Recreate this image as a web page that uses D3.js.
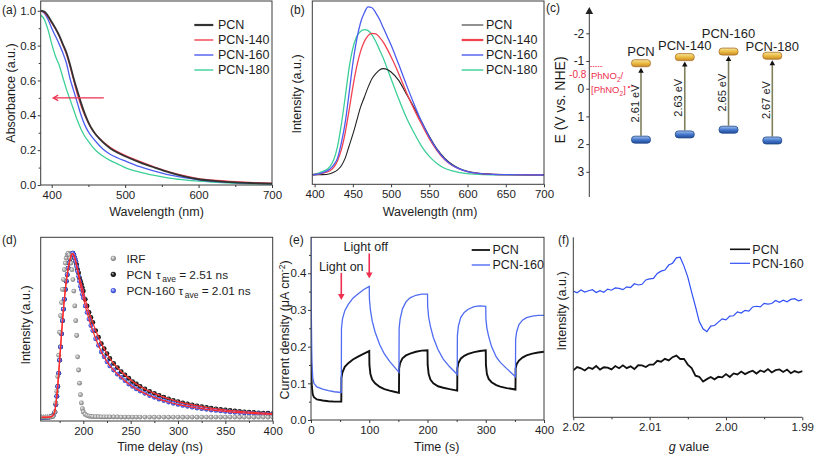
<!DOCTYPE html>
<html><head><meta charset="utf-8">
<script src="https://cdn.jsdelivr.net/npm/d3@7"></script>
<style>body{margin:0;background:#fff}svg{display:block}text{font-family:"Liberation Sans",Arial,Helvetica,sans-serif}</style>
</head><body>
<svg id="chart" width="817" height="458"></svg>
<script>
// ---------- (a) UV-vis absorbance ----------
const aWl   = [385,390,395,400,405,410,415,420,425,430,435,440,445,450,455,460,470,480,490,500,520,540,560,580,600,625,650,675,700];
const aPCN  = [1.0,0.995,0.97,0.935,0.9,0.86,0.81,0.76,0.69,0.61,0.54,0.47,0.41,0.36,0.32,0.29,0.245,0.21,0.185,0.165,0.13,0.1,0.072,0.05,0.033,0.022,0.015,0.011,0.008];
const aP140 = [1.0,0.99,0.965,0.93,0.895,0.855,0.805,0.75,0.68,0.6,0.52,0.455,0.4,0.355,0.318,0.29,0.248,0.215,0.19,0.17,0.135,0.103,0.076,0.054,0.037,0.026,0.019,0.014,0.011];
const aP160 = [1.0,0.985,0.95,0.9,0.855,0.81,0.76,0.7,0.61,0.54,0.47,0.4,0.345,0.305,0.275,0.25,0.205,0.175,0.155,0.138,0.105,0.08,0.058,0.042,0.03,0.02,0.014,0.01,0.007];
const aP180 = [0.975,0.95,0.89,0.81,0.74,0.69,0.62,0.55,0.49,0.43,0.37,0.32,0.28,0.25,0.222,0.198,0.165,0.14,0.12,0.1,0.074,0.055,0.04,0.03,0.022,0.015,0.01,0.007,0.005];
const aXTicks = [400,500,600,700], aXLabels = ["400","500","600","700"], aXMinor = [450,550,650];
const aYTicks = [0,0.2,0.4,0.6,0.8,1.0], aYLabels = ["0.0","0.2","0.4","0.6","0.8","1.0"], aYMinor = [0.1,0.3,0.5,0.7,0.9];
const aArrow = [471,402,0.5];

// ---------- (b) PL spectra ----------
const plWl   = [397,400,410,420,425,430,435,440,445,450,455,460,465,470,475,480,485,490,495,500,510,520,530,540,550,560,570,580,590,600,620,650,700];
const plPCN  = [0,0.001,0.002,0.008,0.016,0.03,0.055,0.1,0.17,0.24,0.32,0.4,0.46,0.52,0.57,0.6,0.622,0.63,0.625,0.61,0.56,0.48,0.4,0.315,0.23,0.155,0.1,0.062,0.037,0.022,0.008,0.002,0];
const plP140 = [0.002,0.003,0.01,0.025,0.045,0.085,0.15,0.25,0.38,0.52,0.64,0.73,0.79,0.825,0.838,0.835,0.815,0.785,0.745,0.7,0.6,0.49,0.39,0.3,0.215,0.145,0.092,0.056,0.034,0.02,0.007,0.002,0];
const plP160 = [0.002,0.003,0.012,0.035,0.06,0.1,0.19,0.31,0.48,0.66,0.8,0.9,0.96,0.995,0.99,0.96,0.92,0.87,0.82,0.77,0.655,0.535,0.42,0.315,0.225,0.15,0.095,0.058,0.035,0.02,0.007,0.002,0];
const plP180 = [0.003,0.005,0.02,0.05,0.09,0.17,0.3,0.46,0.63,0.75,0.82,0.85,0.86,0.855,0.83,0.79,0.74,0.69,0.63,0.57,0.45,0.34,0.25,0.17,0.11,0.068,0.04,0.024,0.014,0.008,0.003,0.001,0];
const bXTicks = [400,450,500,550,600,650,700], bXLabels = ["400","450","500","550","600","650","700"];

// ---------- (c) band positions ----------
const cSamples = ["PCN","PCN-140","PCN-160","PCN-180"];
const cCB  = [-0.92,-1.14,-1.34,-1.19];
const cVB  = [1.84,1.65,1.48,1.87];
const cGap = ["2.61 eV","2.63 eV","2.65 eV","2.67 eV"];
const cTicks = [-2,-1,0,1,2,3], cLabels = ["-2","-1","0","1","2","3"];
const cRedox = -0.8;

// ---------- (d) TRPL decay ----------
const dTime = [156,158,160,162,164,166,168,170,171,172,173,174,175,176,177,178,179,180,181,182,183,184,185,186,187,188,189,190,191,192,193,194,195,196,197,198,199,200,202,204,206,208,210,213,216,219,222,225,228,232,236,240,244,248,252,256,260,265,270,275,280,285,290,295,300,305,310,315,320,325,330,335,340,345,350,355,360,365,370,375,380,385,390,395,400];
const dIRF = [0.004,0.004,0.004,0.004,0.004,0.005,0.008,0.035,
  0.09,0.16,0.25,0.38,0.52,0.62,0.7,0.78,0.84,0.9,
  0.94,0.97,0.99,1.0,0.99,0.97,0.94,0.9,0.84,0.77,
  0.68,0.59,0.5,0.37,0.29,0.21,0.14,0.09,0.055,0.035,
  0.02,0.013,0.01,0.008,0.007,0.006,0.006,0.005,0.005,0.005,0.005,
  0.005,0.005,0.004,0.004,0.004,0.004,0.004,
  0.004,0.004,0.004,0.003,0.004,0.004,0.003,0.004,0.004,0.003,0.004,0.004,0.003,0.004,0.004,0.003,0.004,0.004,0.003,0.004,0.004,0.003,0.004,0.004,0.003,0.004,0.004,0.003,0.004];
const dPCN = [0.003,0.003,0.003,0.004,0.004,0.006,0.012,0.035,
  0.08,0.13,0.19,0.27,0.35,0.43,0.51,0.59,0.66,0.72,
  0.78,0.83,0.87,0.91,0.94,0.965,0.985,0.997,1.0,0.99,
  0.97,0.95,0.93,0.9,0.88,0.85,0.83,0.81,0.79,0.77,
  0.72,0.68,0.64,0.61,0.58,0.53,0.49,0.45,0.42,0.39,0.36,
  0.33,0.305,0.28,0.26,0.24,0.22,0.205,
  0.19,0.175,0.16,0.148,0.136,0.125,0.115,0.106,0.098,0.09,0.084,0.078,0.072,0.067,0.062,0.058,0.054,0.05,0.047,0.044,0.041,0.039,0.036,0.034,0.032,0.03,0.028,0.027,0.025];
const dP160 = [0.002,0.002,0.002,0.003,0.003,0.005,0.011,0.033,
  0.08,0.13,0.19,0.27,0.35,0.43,0.51,0.59,0.66,0.72,
  0.78,0.83,0.87,0.91,0.94,0.965,0.985,0.997,1.0,0.99,
  0.97,0.95,0.92,0.89,0.86,0.83,0.8,0.78,0.75,0.73,
  0.68,0.64,0.6,0.56,0.53,0.48,0.44,0.4,0.37,0.34,0.315,
  0.29,0.265,0.245,0.225,0.205,0.19,0.175,
  0.162,0.148,0.135,0.124,0.113,0.104,0.095,0.088,0.081,0.075,0.069,0.064,0.059,0.055,0.051,0.047,0.044,0.041,0.038,0.035,0.033,0.031,0.029,0.027,0.025,0.024,0.022,0.021,0.02];
const dXTicks = [200,250,300,350,400], dXLabels = ["200","250","300","350","400"], dXMinor = [175,225,275,325,375];
const dTau = ["2.51 ns","2.01 ns"];

// ---------- (e) photocurrent ----------
const eTime = [0,0.5,1.5,3,5,10,20,30,40,52,52.3,54,58,64,72,80,90,100,100.3,102,105,110,118,126,135,143,151,151.3,153,157,163,170,180,190,200,200.3,202,205,210,218,227,238,251,251.3,253,257,263,270,280,290,300,300.3,302,305,310,318,325,336,351,351.3,353,357,363,370,380,390,400];
const eP160 = [0.5,0.3,0.16,0.115,0.1,0.09,0.084,0.08,0.077,0.075,
  0.25,0.275,0.298,0.315,0.332,0.343,0.355,0.364,
  0.33,0.3,0.27,0.24,0.205,0.18,0.16,0.145,0.13,
  0.25,0.275,0.303,0.322,0.333,0.34,0.343,0.343,
  0.31,0.28,0.255,0.225,0.192,0.166,0.145,0.124,
  0.23,0.256,0.279,0.293,0.302,0.309,0.311,0.31,
  0.275,0.25,0.228,0.2,0.172,0.157,0.14,0.118,
  0.22,0.24,0.26,0.272,0.279,0.283,0.285,0.285];
const ePCN = [0.2,0.13,0.09,0.07,0.062,0.056,0.053,0.051,0.05,0.05,
  0.115,0.13,0.145,0.155,0.165,0.172,0.18,0.188,
  0.15,0.125,0.11,0.1,0.09,0.084,0.08,0.077,0.074,
  0.14,0.155,0.168,0.176,0.181,0.186,0.189,0.19,
  0.15,0.125,0.11,0.1,0.092,0.088,0.084,0.08,
  0.14,0.155,0.167,0.175,0.18,0.185,0.188,0.19,
  0.15,0.125,0.112,0.103,0.095,0.091,0.087,0.083,
  0.14,0.152,0.162,0.17,0.176,0.181,0.184,0.186];
const eXTicks = [0,100,200,300,400], eXLabels = ["0","100","200","300","400"], eXMinor = [50,150,250,350];
const eYTicks = [0,0.1,0.2,0.3,0.4], eYLabels = ["0.0","0.1","0.2","0.3","0.4"], eYMinor = [0.05,0.15,0.25,0.35,0.45];
const eLightOn = [52,0.401,0.327], eLightOff = [100,0.454,0.386];

// ---------- (f) EPR ----------
const eprG = [2.0200,2.0195,2.0190,2.0185,2.0180,2.0175,2.0170,2.0165,2.0160,2.0155,2.0150,2.0145,2.0140,2.0135,2.0130,2.0125,2.0120,2.0115,2.0110,2.0105,2.0100,2.0095,2.0090,2.0085,2.0080,2.0075,2.0070,2.0065,2.0060,2.0055,2.0050,2.0045,2.0040,2.0035,2.0030,2.0025,2.0020,2.0015,2.0010,2.0005,2.0000,1.9995,1.9990,1.9985,1.9980,1.9975,1.9970,1.9965,1.9960,1.9955,1.9950,1.9945,1.9940,1.9935,1.9930,1.9925,1.9920,1.9915,1.9910,1.9905,1.9900];
const eprP160 = [70.1,69.2,70.7,69.6,70.3,70.9,69.3,70.3,69.5,71.2,70.6,71.9,71.6,70.9,72.5,72.1,74.2,73.5,73.9,76.3,76.9,77.2,79.9,81.2,81.8,84.6,85.6,88.6,88.9,84.0,77.9,69.5,61.6,53.2,49.2,47.6,50.7,51.0,52.9,54.7,54.1,56.2,56.4,58.6,57.9,59.4,59.0,61.3,61.7,61.3,63.3,62.9,63.2,64.9,63.9,65.1,64.2,65.5,65.9,64.7,65.4];
const eprPCN = [26.1,27.9,27.2,26.0,27.7,26.9,28.5,26.5,27.8,27.6,26.6,28.5,27.3,28.9,27.3,28.3,26.8,28.9,28.8,27.9,29.3,29.3,31.4,30.9,32.5,31.6,33.4,34.3,32.4,32.5,29.3,27.3,23.1,22.5,19.9,21.2,22.4,21.1,22.5,22.2,24.0,22.4,24.4,23.8,25.4,24.0,25.1,25.9,24.3,26.0,25.2,26.8,24.9,26.2,26.6,25.2,26.5,24.5,25.7,24.9,25.6];
const fXTicks = [2.02,2.01,2.00,1.99], fXLabels = ["2.02","2.01","2.00","1.99"], fXMinor = [2.015,2.005,1.995];

// ---------- drawing ----------
const FONT = "'Liberation Sans', Arial, Helvetica, sans-serif";
const AX = "#3a3a3a", TX = "#1e1e1e";
const C_PCN = "#222", C_140 = "#f2404e", C_160 = "#4b5cf0", C_180 = "#3ccf98", C_RED = "#ee2f4f";
const TOP_TITLE_Y = 215.5, BOT_TITLE_Y = 450.5;
const svg = d3.select("#chart");
const defs = svg.append("defs");

function txt(g, x, y, s, o = {}) {
  const t = g.append("text").attr("x", x).attr("y", y).attr("font-size", o.size || 12)
    .attr("fill", o.fill || TX).text(s);
  if (o.anchor) t.attr("text-anchor", o.anchor);
  return t;
}
function vtxt(g, x, y, s, size) {
  return g.append("text").attr("transform", `translate(${x},${y}) rotate(-90)`)
    .attr("text-anchor", "middle").attr("font-size", size || 12.5).attr("fill", TX).text(s);
}
function styleAxis(a) {
  a.attr("font-family", FONT).attr("font-size", 11.5);
  a.select(".domain").remove();
  a.selectAll("line").attr("stroke", AX);
  a.selectAll("text").attr("fill", TX);
}
function xAxis(g, sc, y0, vals, labels, minor) {
  styleAxis(g.append("g").attr("transform", `translate(0,${y0})`)
    .call(d3.axisBottom(sc).tickValues(vals).tickFormat((d, i) => labels[i]).tickSize(3).tickPadding(2.5)));
  if (minor) styleAxis(g.append("g").attr("transform", `translate(0,${y0})`)
    .call(d3.axisBottom(sc).tickValues(minor).tickFormat("").tickSize(2)));
}
function yAxis(g, sc, x0, vals, labels, minor) {
  styleAxis(g.append("g").attr("transform", `translate(${x0},0)`)
    .call(d3.axisLeft(sc).tickValues(vals).tickFormat((d, i) => labels[i]).tickSize(3).tickPadding(1.5)));
  if (minor) styleAxis(g.append("g").attr("transform", `translate(${x0},0)`)
    .call(d3.axisLeft(sc).tickValues(minor).tickFormat("").tickSize(2)));
}
function frame(g, x0, y0, x1, y1) {
  g.append("rect").attr("x", x0).attr("y", y0).attr("width", x1 - x0).attr("height", y1 - y0)
    .attr("fill", "none").attr("stroke", AX).attr("stroke-width", 1);
}
let clipN = 0;
function clip(x0, y0, x1, y1) {
  const id = "clip" + (clipN++);
  defs.append("clipPath").attr("id", id).append("rect").attr("x", x0).attr("y", y0).attr("width", x1 - x0).attr("height", y1 - y0);
  return `url(#${id})`;
}
function mkLine(xs, xv, ys, curve) {
  return d3.line().x((d, i) => xs(xv[i])).y(d => ys(d)).curve(curve || d3.curveMonotoneX);
}
function arrowHead(g, x, y, dir, size, color, filled) {
  const a = dir * Math.PI / 180, s = size;
  const p1 = [x - s * Math.cos(a) + s * 0.55 * Math.sin(a), y - s * Math.sin(a) - s * 0.55 * Math.cos(a)];
  const p2 = [x - s * Math.cos(a) - s * 0.55 * Math.sin(a), y - s * Math.sin(a) + s * 0.55 * Math.cos(a)];
  if (filled) g.append("path").attr("d", `M${x},${y}L${p1[0]},${p1[1]}L${p2[0]},${p2[1]}Z`).attr("fill", color);
  else g.append("path").attr("d", `M${p1[0]},${p1[1]}L${x},${y}L${p2[0]},${p2[1]}`).attr("fill", "none").attr("stroke", color).attr("stroke-width", 1.2);
}

// ===== (a) =====
{
  const g = svg.append("g");
  const x = d3.scaleLinear().domain([385, 700]).range([40.7, 272]);
  const y = d3.scaleLinear().domain([0, 1.056]).range([185, 1]);
  const cp = g.append("g").attr("clip-path", clip(40.7, 1, 272, 185));
  [[aP180, C_180, 1.3], [aP160, C_160, 1.3], [aP140, C_140, 1.3], [aPCN, "#333", 1.8]].forEach(([v, c, w]) =>
    cp.append("path").attr("d", mkLine(x, aWl, y)(v)).attr("fill", "none").attr("stroke", c).attr("stroke-width", w));
  frame(g, 40.7, 1, 272, 185);
  xAxis(g, x, 185, aXTicks, aXLabels, aXMinor);
  yAxis(g, y, 40.7, aYTicks, aYLabels, aYMinor);
  g.append("line").attr("x1", x(aArrow[0])).attr("x2", x(aArrow[1]) + 1).attr("y1", y(aArrow[2])).attr("y2", y(aArrow[2]))
    .attr("stroke", C_RED).attr("stroke-width", 1.1);
  arrowHead(g, x(aArrow[1]), y(aArrow[2]), 180, 5, C_RED, false);
  const leg = [["PCN", "#333", 2.2], ["PCN-140", C_140, 1.4], ["PCN-160", C_160, 1.4], ["PCN-180", C_180, 1.4]];
  leg.forEach(([n, c, w], i) => {
    const yy = 25 + i * 15;
    g.append("line").attr("x1", 194.3).attr("x2", 213.3).attr("y1", yy).attr("y2", yy).attr("stroke", c).attr("stroke-width", w);
    txt(g, 218, yy + 4.3, n, { size: 12.5 });
  });
  vtxt(g, 14.5, 93, "Absorbance (a.u.)");
  txt(g, 156.5, TOP_TITLE_Y, "Wavelength (nm)", { size: 12.5, anchor: "middle" });
  txt(g, 2, 14, "(a)", { size: 12 });
}

// ===== (b) =====
{
  const g = svg.append("g");
  const x = d3.scaleLinear().domain([397, 700]).range([312.3, 544]);
  const y = d3.scaleLinear().domain([-0.055, 1.03]).range([184.3, 1]);
  const cp = g.append("g").attr("clip-path", clip(312.3, 1, 544, 184.3));
  [[plP180, C_180, 1.3], [plPCN, C_PCN, 1.1], [plP140, C_140, 1.3], [plP160, C_160, 1.3]].forEach(([v, c, w]) =>
    cp.append("path").attr("d", mkLine(x, plWl, y)(v)).attr("fill", "none").attr("stroke", c).attr("stroke-width", w));
  frame(g, 312.3, 1, 544, 184.3);
  xAxis(g, x, 184.3, bXTicks, bXLabels, null);
  const leg = [["PCN", C_PCN, 1], ["PCN-140", C_140, 2.2], ["PCN-160", C_160, 1.4], ["PCN-180", C_180, 1.4]];
  leg.forEach(([n, c, w], i) => {
    const yy = 25 + i * 15;
    g.append("line").attr("x1", 461.7).attr("x2", 483.3).attr("y1", yy).attr("y2", yy).attr("stroke", c).attr("stroke-width", w);
    txt(g, 486, yy + 4.3, n, { size: 12.5 });
  });
  vtxt(g, 301, 94, "Intensity (a.u.)");
  txt(g, 430, TOP_TITLE_Y, "Wavelength (nm)", { size: 12.5, anchor: "middle" });
  txt(g, 290, 14, "(b)", { size: 12 });
}

// ===== (c) =====
{
  const g = svg.append("g");
  const ax0 = 589.3;
  const y = d3.scaleLinear().domain([0, 1]).range([88.7, 116.4]);
  const x = d3.scalePoint().domain(cSamples).range([641, 772.3]);
  const labelLift = [7.5, 7.5, 13.5, 5];
  g.append("line").attr("x1", ax0).attr("x2", ax0).attr("y1", 197).attr("y2", 12).attr("stroke", AX).attr("stroke-width", 1);
  arrowHead(g, ax0, 7, -90, 7, "#222", true);
  styleAxis(g.append("g").attr("transform", `translate(${ax0},0)`)
    .call(d3.axisLeft(y).tickValues(cTicks).tickFormat((d, i) => cLabels[i]).tickSize(3).tickPadding(2)));
  g.selectAll("g.tick text").attr("font-size", 12);
  const gcb = defs.append("linearGradient").attr("id", "gcb").attr("x1", 0).attr("x2", 0).attr("y1", 0).attr("y2", 1);
  gcb.append("stop").attr("offset", "0%").attr("stop-color", "#f9e59a");
  gcb.append("stop").attr("offset", "55%").attr("stop-color", "#e8b83c");
  gcb.append("stop").attr("offset", "100%").attr("stop-color", "#c9892a");
  const gvb = defs.append("linearGradient").attr("id", "gvb").attr("x1", 0).attr("x2", 0).attr("y1", 0).attr("y2", 1);
  gvb.append("stop").attr("offset", "0%").attr("stop-color", "#9cc0f0");
  gvb.append("stop").attr("offset", "55%").attr("stop-color", "#3f72c8");
  gvb.append("stop").attr("offset", "100%").attr("stop-color", "#234e9a");
  cSamples.forEach((s, i) => {
    const cx = x(s), ycb = y(cCB[i]), yvb = y(cVB[i]);
    g.append("line").attr("x1", cx).attr("x2", cx).attr("y1", yvb - 4).attr("y2", ycb + 8)
      .attr("stroke", "#7f7f5c").attr("stroke-width", 1.6);
    arrowHead(g, cx, ycb + 4.5, -90, 5, "#111", true);
    g.append("rect").attr("x", cx - 9.5).attr("y", ycb - 3.5).attr("width", 19).attr("height", 7).attr("rx", 3.2)
      .attr("fill", "url(#gcb)").attr("stroke", "#a8702a").attr("stroke-width", 0.8);
    g.append("rect").attr("x", cx - 9.5).attr("y", yvb - 3.5).attr("width", 19).attr("height", 7).attr("rx", 3.2)
      .attr("fill", "url(#gvb)").attr("stroke", "#1f4688").attr("stroke-width", 0.8);
    txt(g, cx, ycb - labelLift[i], s, { size: 13, anchor: "middle" });
    g.append("text").attr("transform", `translate(${cx - 2.5},${(ycb + yvb) / 2 + 2}) rotate(-90)`)
      .attr("text-anchor", "middle").attr("font-size", 11).attr("fill", TX).text(cGap[i]);
  });
  const yr = y(cRedox);
  g.append("line").attr("x1", ax0 + 1).attr("x2", 603).attr("y1", yr).attr("y2", yr)
    .attr("stroke", C_RED).attr("stroke-width", 0.9).attr("stroke-dasharray", "1.5,1");
  txt(g, ax0 - 3, yr + 11.5, "-0.8", { size: 10, anchor: "end", fill: C_RED });
  const t1 = g.append("text").attr("x", 591).attr("y", 79).attr("font-size", 9.5).attr("fill", C_RED);
  t1.append("tspan").text("PhNO");
  t1.append("tspan").attr("dy", 2.5).attr("font-size", 6.5).text("2");
  t1.append("tspan").attr("dy", -2.5).text("/");
  const t2 = g.append("text").attr("x", 591).attr("y", 93).attr("font-size", 9.5).attr("fill", C_RED);
  t2.append("tspan").text("[PhNO");
  t2.append("tspan").attr("dy", 2.5).attr("font-size", 6.5).text("2");
  t2.append("tspan").attr("dy", -2.5).text("]");
  t2.append("tspan").attr("dy", -4).attr("font-size", 7).text(" \u2022\u2212");
  vtxt(g, 565, 100, "E (V vs. NHE)", 14);
  txt(g, 546, 12, "(c)", { size: 12 });
}

function sphere(id, hi, mid, lo) {
  const r = defs.append("radialGradient").attr("id", id).attr("cx", "50%").attr("cy", "50%").attr("r", "55%").attr("fx", "35%").attr("fy", "32%");
  r.append("stop").attr("offset", "0%").attr("stop-color", hi);
  r.append("stop").attr("offset", "55%").attr("stop-color", mid);
  r.append("stop").attr("offset", "100%").attr("stop-color", lo);
}
sphere("sGray", "#f6f6f6", "#a9a9a9", "#6e6e6e");
sphere("sBlack", "#b0b0b0", "#262626", "#000");
sphere("sBlue", "#d4dbff", "#5468f2", "#2633a8");

// ===== (d) =====
{
  const g = svg.append("g");
  const x = d3.scaleLinear().domain([155, 400]).range([40.7, 272.7]);
  const y = d3.scaleLinear().domain([-0.02, 1.097]).range([421, 237.3]);
  const cp = g.append("g").attr("clip-path", clip(40.7, 237.3, 272.7, 421));
  const dots = (vals, fill) => cp.append("g").selectAll("circle").data(vals).join("circle")
    .attr("cx", (d, i) => x(dTime[i])).attr("cy", d => y(d)).attr("r", 2.4).attr("fill", `url(#${fill})`);
  dots(dPCN, "sBlack");
  dots(dP160, "sBlue");
  dots(dIRF, "sGray");
  [dPCN, dP160].forEach(v => cp.append("path").attr("d", mkLine(x, dTime, y, d3.curveBasis)(v))
    .attr("fill", "none").attr("stroke", "#ff2a2a").attr("stroke-width", 1.2));
  frame(g, 40.7, 237.3, 272.7, 421);
  xAxis(g, x, 421, dXTicks, dXLabels, dXMinor);
  const lx = 113.3;
  [["sGray", 258.3], ["sBlack", 274.3], ["sBlue", 290.6]].forEach(([f, yy]) =>
    g.append("circle").attr("cx", lx).attr("cy", yy).attr("r", 2.6).attr("fill", `url(#${f})`));
  txt(g, 126.5, 262.6, "IRF", { size: 11.8 });
  txt(g, 126.5, 278.6, "PCN", { size: 11.8 });
  txt(g, 126.5, 294.9, "PCN-160", { size: 11.8 });
  const tau = (x0, yy, val) => {
    const t = g.append("text").attr("x", x0).attr("y", yy).attr("font-size", 11.8).attr("fill", TX);
    t.append("tspan").text("\u03c4");
    t.append("tspan").attr("dx", 1.5).attr("dy", 3.5).attr("font-size", 8.5).text("ave");
    t.append("tspan").attr("dy", -3.5).text(" = " + val);
  };
  tau(156, 278.6, dTau[0]);
  tau(178.5, 294.9, dTau[1]);
  vtxt(g, 29.5, 325, "Intensity (a.u.)");
  txt(g, 160, BOT_TITLE_Y, "Time delay (ns)", { size: 12.5, anchor: "middle" });
  txt(g, 2, 244, "(d)", { size: 12 });
}

// ===== (e) =====
{
  const g = svg.append("g");
  const x = d3.scaleLinear().domain([0, 400]).range([311, 544]);
  const y = d3.scaleLinear().domain([0, 0.498]).range([420, 237.3]);
  const cp = g.append("g").attr("clip-path", clip(311, 237.3, 544, 420));
  cp.append("path").attr("d", mkLine(x, eTime, y, d3.curveLinear)(ePCN)).attr("fill", "none").attr("stroke", "#111").attr("stroke-width", 1.9);
  cp.append("path").attr("d", mkLine(x, eTime, y, d3.curveLinear)(eP160)).attr("fill", "none").attr("stroke", "#4f6cf2").attr("stroke-width", 1.3);
  frame(g, 311, 237.3, 544, 420);
  xAxis(g, x, 420, eXTicks, eXLabels, eXMinor);
  yAxis(g, y, 311, eYTicks, eYLabels, eYMinor);
  [[eLightOn, "Light on", 271, 0], [eLightOff, "Light off", 250.5, -3.5]].forEach(([a, s, ty, dx]) => {
    const ax = x(a[0]);
    g.append("line").attr("x1", ax).attr("x2", ax).attr("y1", y(a[1])).attr("y2", y(a[2]) - 3)
      .attr("stroke", C_RED).attr("stroke-width", 1.6);
    arrowHead(g, ax, y(a[2]), 90, 6, C_RED, true);
    txt(g, ax + dx, ty, s, { size: 12.5, anchor: "middle" });
  });
  [["PCN", "#111", 1.8, 250], ["PCN-160", "#4f6cf2", 1.4, 265]].forEach(([n, c, w, yy]) => {
    g.append("line").attr("x1", 471.7).attr("x2", 490).attr("y1", yy).attr("y2", yy).attr("stroke", c).attr("stroke-width", w);
    txt(g, 492.5, yy + 4.3, n, { size: 12.5 });
  });
  const yl = g.append("text").attr("transform", "translate(289,330) rotate(-90)").attr("text-anchor", "middle")
    .attr("font-size", 12.5).attr("fill", TX);
  yl.append("tspan").text("Current density (\u03bcA cm");
  yl.append("tspan").attr("dy", -4.5).attr("font-size", 8.5).text("-2");
  yl.append("tspan").attr("dy", 4.5).text(")");
  txt(g, 436.7, BOT_TITLE_Y, "Time (s)", { size: 12.5, anchor: "middle" });
  txt(g, 289, 244, "(e)", { size: 12 });
}

// ===== (f) =====
{
  const g = svg.append("g");
  const x = d3.scaleLinear().domain([2.02, 1.99]).range([573.3, 802.3]);
  const y = d3.scaleLinear().domain([0, 100]).range([417.3, 237.3]);
  const cp = g.append("g").attr("clip-path", clip(573.3, 237.3, 803, 417.3));
  cp.append("path").attr("d", mkLine(x, eprG, y, d3.curveLinear)(eprPCN)).attr("fill", "none").attr("stroke", "#111").attr("stroke-width", 1.8);
  cp.append("path").attr("d", mkLine(x, eprG, y, d3.curveLinear)(eprP160)).attr("fill", "none").attr("stroke", "#2f4ff5").attr("stroke-width", 1.2);
  g.append("line").attr("x1", 573.3).attr("x2", 573.3).attr("y1", 237.3).attr("y2", 417.3).attr("stroke", AX);
  g.append("line").attr("x1", 573.3).attr("x2", 802.3).attr("y1", 417.3).attr("y2", 417.3).attr("stroke", AX);
  xAxis(g, x, 417.3, fXTicks, fXLabels, fXMinor);
  [["PCN", "#111", 1.6, 249.3], ["PCN-160", "#2f4ff5", 1.2, 263.3]].forEach(([n, c, w, yy]) => {
    g.append("line").attr("x1", 730).attr("x2", 750).attr("y1", yy).attr("y2", yy).attr("stroke", c).attr("stroke-width", w);
    txt(g, 752.3, yy + 4.3, n, { size: 12.5 });
  });
  vtxt(g, 566, 311, "Intensity (a.u.)");
  const xl = g.append("text").attr("x", 689).attr("y", BOT_TITLE_Y).attr("text-anchor", "middle").attr("font-size", 12.5).attr("fill", TX);
  xl.append("tspan").attr("font-style", "italic").text("g");
  xl.append("tspan").text(" value");
  txt(g, 558, 244, "(f)", { size: 12 });
}
</script>
</body></html>
